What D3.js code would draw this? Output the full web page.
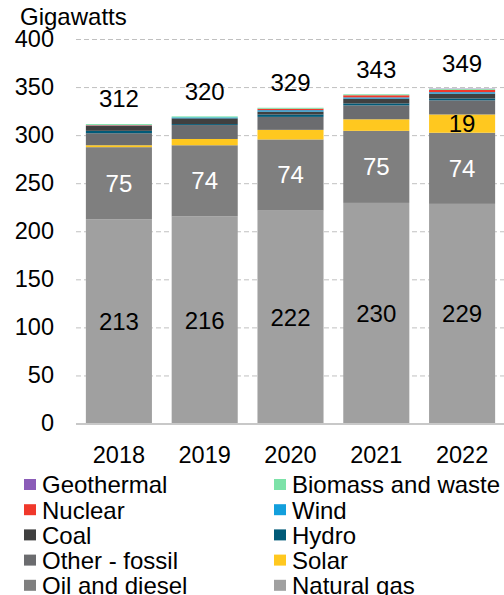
<!DOCTYPE html>
<html><head><meta charset="utf-8">
<script src="https://cdn.jsdelivr.net/npm/d3@7"></script>
<style>body{margin:0;background:#fff}svg{display:block;font-family:"Liberation Sans",Arial,sans-serif}</style>
</head><body><svg id="c" width="504" height="595"></svg>
<script>
const years = ["2018","2019","2020","2021","2022"];
const naturalGas  = [213,216,222,230,229];
const oilDiesel   = [75,74,74,75,74];
const solar       = [2,6.5,10,12,19];
const otherFossil = [12.5,14.5,13.5,14.5,14.7];
const hydro       = [2.5,1,2.5,2,2];
const coal        = [5,6,3,5,5];
const wind        = [0.5,1,1.5,1.3,1.5];
const nuclear     = [0.5,0,1.5,2.2,2.5];
const biomass     = [1,1,1,1,1];
const geothermal  = [0,0,0,0,0.3];
const totals      = [312,320,329,343,349];
const yTicks      = [0,50,100,150,200,250,300,350,400];
const seriesNames = ["Natural gas","Oil and diesel","Solar","Other - fossil","Hydro","Coal","Wind","Nuclear","Biomass and waste","Geothermal"];
const seriesData  = [naturalGas,oilDiesel,solar,otherFossil,hydro,coal,wind,nuclear,biomass,geothermal];
const colors = ["#a0a0a0","#7f7f7f","#ffc81f","#6b6c6f","#005a78","#404040","#139fdc","#f0382b","#7ce2a8","#8b5cb8"];
const legendOrder = ["Geothermal","Biomass and waste","Nuclear","Wind","Coal","Hydro","Other - fossil","Solar","Oil and diesel","Natural gas"];

const svg = d3.select("#c");
const x = d3.scaleBand().domain(years).range([76,505]).paddingInner(0.23).paddingOuter(0.115);
const y = d3.scaleLinear().domain([0,400]).range([424,39.5]);
const color = d3.scaleOrdinal().domain(seriesNames).range(colors);

const table = years.map((yr,i)=>{const o={year:yr};seriesNames.forEach((n,k)=>o[n]=seriesData[k][i]);return o;});
const stacked = d3.stack().keys(seriesNames)(table);

// gridlines
svg.append("g").selectAll("line").data(yTicks.filter(t=>t>0)).join("line")
  .attr("x1",76).attr("x2",504).attr("y1",d=>y(d)).attr("y2",d=>y(d))
  .attr("stroke","#c0c0c0").attr("stroke-width",1).attr("stroke-dasharray","5,3");

// y tick labels
svg.append("g").selectAll("text").data(yTicks).join("text")
  .attr("x",54).attr("y",d=>y(d)-1).attr("dy","0.35em").attr("text-anchor","end")
  .attr("font-size",23.5).attr("fill","#000").text(d=>d);

svg.append("text").attr("x",20).attr("y",25).attr("font-size",24).text("Gigawatts");

// bars
svg.append("g").selectAll("g").data(stacked).join("g").attr("fill",d=>color(d.key))
  .selectAll("rect").data(d=>d).join("rect")
  .attr("x",d=>x(d.data.year)).attr("width",x.bandwidth())
  .attr("y",d=>y(d[1])).attr("height",d=>y(d[0])-y(d[1]));

// baseline
svg.append("line").attr("x1",76).attr("x2",504).attr("y1",y(0)).attr("y2",y(0))
  .attr("stroke","#c8c8c8").attr("stroke-width",2);

// x labels
svg.append("g").selectAll("text").data(years).join("text")
  .attr("x",d=>x(d)+x.bandwidth()/2).attr("y",455).attr("dy","0.35em").attr("text-anchor","middle")
  .attr("font-size",23.5).text(d=>d);

// segment labels
const lab = svg.append("g").attr("font-size",24).attr("text-anchor","middle");
const addLabels=(k,cond,fill)=>{
  lab.append("g").selectAll("text").data(stacked[k].filter(cond)).join("text")
    .attr("x",d=>x(d.data.year)+x.bandwidth()/2).attr("y",d=>y((d[0]+d[1])/2)).attr("dy","0.35em")
    .attr("fill",fill).text(d=>Math.round(d[1]-d[0]));
};
addLabels(0,()=>true,"#000");
addLabels(1,()=>true,"#fff");
addLabels(2,d=>d[1]-d[0]>=15,"#000");

// totals
lab.append("g").selectAll("text").data(years).join("text")
  .attr("x",d=>x(d)+x.bandwidth()/2).attr("y",(d,i)=>y(totals[i])-25).attr("dy","0.35em")
  .attr("fill","#000").text((d,i)=>totals[i]);

// legend
const lg = svg.append("g").selectAll("g").data(legendOrder).join("g")
  .attr("transform",(d,i)=>`translate(${i%2===0?24:274},${485+Math.floor(i/2)*25.2})`);
lg.append("rect").attr("x",0).attr("y",-6).attr("width",12).attr("height",11).attr("fill",d=>color(d));
lg.append("text").attr("x",18).attr("y",0).attr("dy","0.35em").attr("font-size",24).text(d=>d);
</script></body></html>
